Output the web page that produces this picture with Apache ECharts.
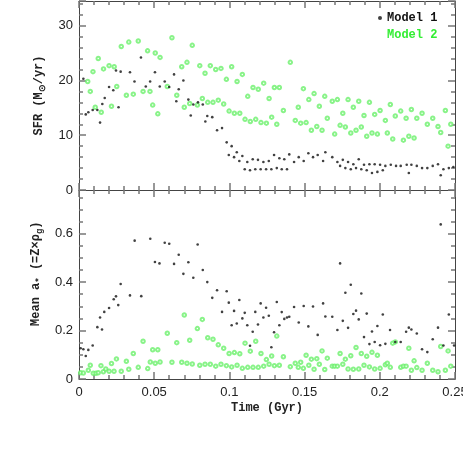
<!DOCTYPE html>
<html>
<head>
<meta charset="utf-8">
<script src="https://cdn.jsdelivr.net/npm/echarts@6/dist/echarts.min.js"></script>
<style>
  body { margin: 0; background: #fff; }
  #chart { width: 463px; height: 456px; }
</style>
</head>
<body>
<div id="chart"></div>
<script>
// SFR panel, Model 1 (black dots)
const sfrTime1 = [0.0029,0.0045,0.0062,0.0091,0.0122,0.0140,0.0155,0.0171,0.0200,0.0228,
  0.0246,0.0263,0.0277,0.0339,0.0369,0.0412,0.0444,0.0473,0.0505,0.0537,
  0.0570,0.0600,0.0632,0.0647,0.0663,0.0694,0.0727,0.0743,0.0760,0.0791,
  0.0823,0.0840,0.0853,0.0886,0.0918,0.0951,0.0982,0.0996,0.1015,0.1031,
  0.1049,0.1066,0.1086,0.1102,0.1119,0.1137,0.1155,0.1172,0.1190,0.1208,
  0.1226,0.1244,0.1262,0.1279,0.1297,0.1315,0.1332,0.1348,0.1365,0.1383,
  0.1398,0.1430,0.1461,0.1494,0.1525,0.1556,0.1587,0.1623,0.1638,0.1684,
  0.1718,0.1736,0.1754,0.1771,0.1789,0.1807,0.1824,0.1842,0.1860,0.1877,
  0.1895,0.1913,0.1931,0.1948,0.1966,0.1984,0.2002,0.2020,0.2037,0.2073,
  0.2108,0.2139,0.2179,0.2193,0.2210,0.2246,0.2281,0.2316,0.2352,0.2387,
  0.2405,0.2423,0.2459,0.2489];
const sfr1 = [20.3,13.8,14.2,14.6,14.6,12.3,15.7,16.8,18.8,18.2,
  21.8,15.1,21.6,21.5,19.8,24.2,18.9,19.8,21.5,18.9,
  19.8,18.8,21.1,16.2,18.4,20.0,16.5,13.6,15.6,16.0,
  15.6,12.5,13.5,13.3,10.9,11.3,8.7,6.4,8.0,6.0,
  6.9,5.3,6.2,3.8,5.1,3.6,5.6,3.8,5.5,3.8,
  5.1,3.8,5.3,3.8,6.4,4.0,5.8,3.8,5.6,3.8,
  6.5,5.1,6.0,5.3,6.7,6.0,6.4,5.3,6.9,6.0,
  5.1,4.4,5.5,4.0,5.1,3.8,4.7,4.0,5.6,3.8,
  4.6,3.6,4.7,3.1,4.7,3.3,4.6,3.6,4.4,4.6,
  4.4,4.4,4.6,3.1,4.6,4.4,4.0,4.0,4.4,4.7,
  2.7,3.8,4.0,4.2];

// SFR panel, Model 2 (green circles)
const sfrTime2 = [0.0058,0.0075,0.0093,0.0108,0.0128,0.0148,0.0163,0.0200,0.0216,0.0234,
  0.0251,0.0281,0.0315,0.0331,0.0361,0.0394,0.0426,0.0456,0.0472,0.0490,
  0.0507,0.0524,0.0539,0.0587,0.0618,0.0650,0.0683,0.0700,0.0718,0.0736,
  0.0753,0.0787,0.0803,0.0820,0.0838,0.0856,0.0873,0.0891,0.0909,0.0926,
  0.0944,0.0962,0.0980,0.0998,0.1015,0.1033,0.1051,0.1069,0.1086,0.1104,
  0.1122,0.1139,0.1157,0.1175,0.1192,0.1210,0.1228,0.1246,0.1264,0.1281,
  0.1299,0.1315,0.1332,0.1359,0.1405,0.1438,0.1458,0.1474,0.1492,0.1510,
  0.1528,0.1545,0.1563,0.1581,0.1598,0.1616,0.1634,0.1651,0.1684,0.1700,
  0.1718,0.1736,0.1754,0.1771,0.1789,0.1807,0.1824,0.1842,0.1860,0.1877,
  0.1895,0.1913,0.1931,0.1948,0.1966,0.1984,0.2002,0.2037,0.2050,0.2070,
  0.2086,0.2103,0.2139,0.2157,0.2175,0.2193,0.2210,0.2228,0.2246,0.2281,
  0.2316,0.2352,0.2387,0.2405,0.2436,0.2454,0.2472];
const sfr2 = [19.8,18.0,21.6,15.1,24.0,14.2,22.1,22.7,15.3,22.5,
  18.9,26.2,17.3,27.0,17.5,27.2,18.0,25.4,18.0,15.5,
  25.0,13.9,24.2,18.9,27.8,17.3,22.5,15.1,23.3,15.8,
  26.4,15.5,22.7,16.7,21.3,16.0,22.7,16.0,22.0,16.4,
  22.2,15.7,20.2,14.4,22.5,14.0,19.8,14.0,21.1,12.9,
  17.1,12.5,18.7,12.9,18.4,12.3,19.5,12.2,16.7,13.3,
  18.7,12.0,18.7,14.5,23.3,12.7,15.1,12.2,18.5,12.3,
  16.5,10.9,17.6,11.6,15.3,10.9,17.1,13.1,16.2,10.2,
  16.5,11.8,14.0,11.5,16.5,10.4,15.1,10.9,16.2,11.5,
  13.6,9.8,16.0,10.4,13.8,10.2,14.5,12.7,10.4,15.6,
  9.3,13.5,14.4,9.1,13.1,9.8,14.7,9.5,13.1,14.0,
  12.0,13.1,11.6,10.5,14.5,8.0,12.0];

// Mean a* panel, Model 1
const aTime1 = [0.0011,0.0029,0.0045,0.0062,0.0091,0.0122,0.0140,0.0153,0.0168,0.0200,
  0.0231,0.0246,0.0261,0.0277,0.0339,0.0370,0.0414,0.0474,0.0505,0.0535,
  0.0570,0.0600,0.0632,0.0663,0.0694,0.0727,0.0760,0.0789,0.0823,0.0853,
  0.0886,0.0918,0.0951,0.0982,0.0996,0.1015,0.1031,0.1049,0.1066,0.1086,
  0.1102,0.1119,0.1137,0.1155,0.1172,0.1190,0.1208,0.1226,0.1244,0.1262,
  0.1279,0.1297,0.1315,0.1332,0.1348,0.1365,0.1383,0.1398,0.1430,0.1461,
  0.1494,0.1525,0.1556,0.1587,0.1623,0.1638,0.1684,0.1718,0.1736,0.1754,
  0.1771,0.1789,0.1807,0.1824,0.1842,0.1860,0.1877,0.1895,0.1913,0.1931,
  0.1948,0.1966,0.1984,0.2002,0.2020,0.2037,0.2068,0.2103,0.2139,0.2175,
  0.2193,0.2210,0.2246,0.2281,0.2316,0.2352,0.2387,0.2405,0.2423,0.2459,
  0.2494];
const a1 = [0.127,0.123,0.095,0.120,0.138,0.214,0.254,0.204,0.277,0.293,
  0.329,0.341,0.305,0.392,0.345,0.571,0.342,0.579,0.483,0.477,
  0.562,0.558,0.475,0.513,0.434,0.482,0.418,0.555,0.450,0.400,
  0.335,0.366,0.277,0.362,0.315,0.222,0.281,0.229,0.326,0.250,
  0.273,0.222,0.137,0.195,0.277,0.225,0.312,0.254,0.294,0.261,
  0.131,0.193,0.318,0.222,0.276,0.248,0.254,0.257,0.297,0.233,
  0.301,0.217,0.299,0.182,0.312,0.258,0.257,0.202,0.477,0.240,
  0.356,0.211,0.389,0.268,0.282,0.246,0.353,0.173,0.270,0.144,
  0.196,0.153,0.219,0.139,0.266,0.145,0.202,0.153,0.153,0.195,
  0.212,0.204,0.188,0.123,0.111,0.164,0.212,0.638,0.138,0.266,
  0.138];

// Mean a* panel, Model 2
const aTime2 = [0.0011,0.0029,0.0062,0.0075,0.0095,0.0113,0.0128,0.0146,0.0162,0.0178,
  0.0200,0.0216,0.0233,0.0249,0.0281,0.0315,0.0331,0.0361,0.0394,0.0426,
  0.0457,0.0474,0.0490,0.0507,0.0524,0.0539,0.0587,0.0618,0.0650,0.0683,
  0.0700,0.0718,0.0736,0.0753,0.0787,0.0803,0.0820,0.0838,0.0856,0.0873,
  0.0891,0.0909,0.0926,0.0944,0.0962,0.0980,0.0998,0.1015,0.1033,0.1051,
  0.1069,0.1086,0.1104,0.1122,0.1139,0.1157,0.1175,0.1192,0.1210,0.1228,
  0.1246,0.1264,0.1281,0.1299,0.1315,0.1332,0.1359,0.1405,0.1438,0.1458,
  0.1474,0.1492,0.1510,0.1528,0.1545,0.1563,0.1581,0.1598,0.1616,0.1634,
  0.1651,0.1684,0.1700,0.1718,0.1736,0.1754,0.1771,0.1789,0.1807,0.1824,
  0.1842,0.1860,0.1877,0.1895,0.1913,0.1931,0.1948,0.1966,0.1984,0.2002,
  0.2037,0.2050,0.2070,0.2086,0.2103,0.2139,0.2157,0.2175,0.2193,0.2210,
  0.2228,0.2246,0.2281,0.2316,0.2352,0.2387,0.2405,0.2436,0.2454,0.2472];
const a2 = [0.026,0.025,0.036,0.057,0.024,0.024,0.026,0.055,0.030,0.041,
  0.032,0.064,0.032,0.083,0.032,0.073,0.040,0.105,0.048,0.156,
  0.043,0.070,0.121,0.065,0.121,0.070,0.189,0.069,0.150,0.069,
  0.264,0.065,0.160,0.062,0.208,0.057,0.246,0.061,0.170,0.061,
  0.164,0.053,0.141,0.061,0.127,0.055,0.105,0.050,0.109,0.057,
  0.104,0.044,0.148,0.048,0.115,0.048,0.156,0.048,0.105,0.053,
  0.080,0.061,0.095,0.055,0.177,0.057,0.092,0.051,0.065,0.048,
  0.069,0.044,0.098,0.057,0.082,0.040,0.084,0.061,0.116,0.039,
  0.086,0.053,0.053,0.053,0.105,0.061,0.082,0.041,0.096,0.040,
  0.130,0.041,0.105,0.057,0.094,0.050,0.110,0.041,0.098,0.044,
  0.059,0.065,0.048,0.148,0.153,0.048,0.053,0.053,0.127,0.036,
  0.075,0.047,0.036,0.065,0.036,0.030,0.134,0.036,0.116,0.053];

const modelNames = ['Model 1', 'Model 2'];

let zip = (xs, ys) => xs.slice(0, Math.min(xs.length, ys.length)).map((x, i) => [x, ys[i]]);

let chart = echarts.init(document.getElementById('chart'));

const lineCol = '#444';
const tickCol = '#777';
const black = '#111';
const green = '#6cf06c';
const labelFont = { fontFamily: 'Liberation Sans', fontSize: 13, color: '#222' };
const nameFont = { fontFamily: 'Liberation Mono', fontSize: 12, fontWeight: 'bold', color: '#222' };

let xAx = (grid, pos, labels) => ({
  type: 'value', gridIndex: grid, position: pos,
  min: 0, max: 0.25, interval: 0.05,
  axisLine: { show: true, onZero: false, lineStyle: { color: lineCol, width: 1 } },
  axisTick: { show: true, inside: true, length: 7, lineStyle: { color: tickCol, width: 1.5 } },
  minorTick: { show: true, splitNumber: 5, length: 4, lineStyle: { color: tickCol, width: 1.5 } },
  splitLine: { show: false },
  axisLabel: { show: labels, margin: 7, ...labelFont }
});

let yAx = (grid, pos, max, interval, minorSplit, labels) => ({
  type: 'value', gridIndex: grid, position: pos,
  min: 0, max: max, interval: interval,
  axisLine: { show: true, onZero: false, lineStyle: { color: lineCol, width: 1 } },
  axisTick: { show: true, inside: true, length: 7, lineStyle: { color: tickCol, width: 1.5 } },
  minorTick: { show: true, splitNumber: minorSplit, length: 4, lineStyle: { color: tickCol, width: 1.5 } },
  splitLine: { show: false },
  axisLabel: { show: labels, margin: 6, showMaxLabel: false, ...labelFont }
});

let named = (ax, name, gap) => ({
  ...ax, name: name, nameLocation: 'middle', nameGap: gap,
  nameTextStyle: { ...nameFont, rich: { sub: { ...nameFont, fontSize: 9, padding: [8, 0, 0, 0] } } }
});

let option = {
  animation: false,
  grid: [
    { left: 79, right: 8, top: 1, height: 189, outerBoundsMode: 'none', containLabel: false },
    { left: 79, right: 8, top: 190, height: 189, outerBoundsMode: 'none', containLabel: false }
  ],
  legend: {
    orient: 'vertical', left: 372, top: 7, itemGap: 5,
    itemWidth: 4, itemHeight: 4,
    textStyle: nameFont,
    data: [
      { name: modelNames[0], icon: 'circle', itemStyle: { color: black }, textStyle: { color: '#111' } },
      { name: modelNames[1], icon: 'emptyCircle', itemStyle: { color: '#fff', borderColor: green, borderWidth: 1 }, textStyle: { color: '#33ee33' } }
    ]
  },
  xAxis: [
    xAx(0, 'bottom', false),
    xAx(0, 'top', false),
    { ...xAx(1, 'bottom', true), name: 'Time (Gyr)', nameLocation: 'middle', nameGap: 23, nameTextStyle: nameFont },
    xAx(1, 'top', false)
  ],
  yAxis: [
    named(yAx(0, 'left', 34.5, 10, 5, true), 'SFR (M{sub|⊙}/yr)', 18),
    yAx(0, 'right', 34.5, 10, 5, false),
    named(yAx(1, 'left', 0.78, 0.2, 4, true), '   Mean a{sub|*} (=Z×ρ{sub|g})', 31),
    yAx(1, 'right', 0.78, 0.2, 4, false)
  ],
  series: [
    { name: modelNames[1], type: 'scatter', xAxisIndex: 0, yAxisIndex: 0, data: zip(sfrTime2, sfr2),
      symbol: 'emptyCircle', symbolSize: 3.5, itemStyle: { color: green, borderWidth: 0.8 } },
    { name: modelNames[0], type: 'scatter', xAxisIndex: 0, yAxisIndex: 0, data: zip(sfrTime1, sfr1),
      symbol: 'circle', symbolSize: 2.6, itemStyle: { color: black } },
    { name: modelNames[1], type: 'scatter', xAxisIndex: 2, yAxisIndex: 2, data: zip(aTime2, a2),
      symbol: 'emptyCircle', symbolSize: 3.5, itemStyle: { color: green, borderWidth: 0.8 } },
    { name: modelNames[0], type: 'scatter', xAxisIndex: 2, yAxisIndex: 2, data: zip(aTime1, a1),
      symbol: 'circle', symbolSize: 2.6, itemStyle: { color: black } }
  ]
};
chart.setOption(option);
</script>
</body>
</html>
